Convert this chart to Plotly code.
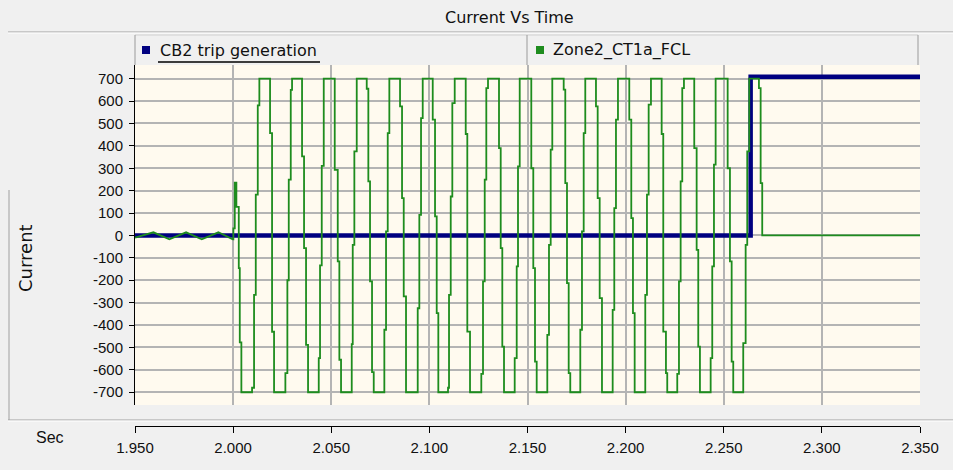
import plotly.graph_objects as go

# ---------------- data ----------------
# pre-fault (linear) samples of Zone2_CT1a_FCL
prefault_t = [1.950, 1.95937, 1.96752, 1.97603, 1.98403, 1.99249, 1.99982]
prefault_v = [-10, 14, -17, 14, -17, 14, -17]

# fault period: sample-and-hold samples of Zone2_CT1a_FCL (time s, current)
fault_t = [2.00013, 2.00084, 2.00166, 2.00288, 2.00339, 2.00420,
           2.00965, 2.01067, 2.01154, 2.01256, 2.01337,
           2.01882, 2.01984, 2.02086,
           2.02662, 2.02764, 2.02835, 2.02937, 2.03003,
           2.03512, 2.03614, 2.03716, 2.03818,
           2.04363, 2.04429, 2.04516, 2.04618,
           2.05178, 2.05331, 2.05413, 2.05499,
           2.06044, 2.06095, 2.06177, 2.06299,
           2.06808, 2.06890, 2.06976, 2.07078, 2.07165,
           2.07705, 2.07792, 2.07878, 2.07960,
           2.08505, 2.08607, 2.08693, 2.08810,
           2.09406, 2.09488, 2.09575, 2.09661,
           2.10171, 2.10288, 2.10374, 2.10456,
           2.10950, 2.11001, 2.11088, 2.11169, 2.11291,
           2.11852, 2.11933, 2.12071,
           2.12646, 2.12733, 2.12820, 2.12901, 2.12988,
           2.13548, 2.13635, 2.13716, 2.13803,
           2.14348, 2.14450, 2.14516, 2.14603,
           2.15193, 2.15295, 2.15382, 2.15469,
           2.16009, 2.16095, 2.16182, 2.16263,
           2.16844, 2.16925, 2.17012, 2.17099, 2.17180,
           2.17690, 2.17776, 2.17863, 2.17944,
           2.18489, 2.18576, 2.18678, 2.18795,
           2.19340, 2.19422, 2.19508, 2.19610,
           2.20186, 2.20288, 2.20374, 2.20461,
           2.21001, 2.21087, 2.21174, 2.21291,
           2.21836, 2.21918, 2.22055, 2.22121,
           2.22631, 2.22718, 2.22804, 2.22886, 2.22972,
           2.23497, 2.23619, 2.23701, 2.23787,
           2.24333, 2.24414, 2.24501, 2.24587,
           2.25199, 2.25316, 2.25403, 2.25484,
           2.25993, 2.26116, 2.26197, 2.26299,
           2.26793, 2.26880, 2.26961, 2.35000]
fault_v = [32, 236, 128, -146, -477, -700,
           -680, -265, 182, 581, 700,
           457, -430, -700,
           -615, -200, 249, 650, 700,
           353, -57, -489, -700,
           -548, -134, 311, 700,
           293, -116, -555, -700,
           -485, -42, 375, 700,
           655, 241, -205, -610, -700,
           -421, 18, 457, 700,
           576, 167, -272, -700,
           -325, 92, 524, 700,
           517, 85, -347, -700,
           -680, -265, 174, 591, 700,
           453, -429, -700,
           -618, -205, 249, 658, 700,
           390, -57, -496, -700,
           -548, -138, 308, 700,
           300, -146, -563, -700,
           -444, -42, 383, 700,
           651, 234, -213, -615, -700,
           -421, 18, 457, 700,
           576, 167, -280, -700,
           -332, 122, 517, 700,
           517, 77, -347, -700,
           -265, 182, 584, 700,
           453, -429, -615, -700,
           -618, -205, 241, 658, 700,
           390, -64, -496, -700,
           -548, -138, 316, 700,
           300, -116, -563, -700,
           -481, -42, 375, 700,
           658, 234, 0, 0]

# CB2 trip generation (step)
trip_t = [1.950, 2.26370, 2.350]
trip_v = [0, 708, 708]

x_ticks = [1.95, 2.00, 2.05, 2.10, 2.15, 2.20, 2.25, 2.30, 2.35]
x_tick_text = ["1.950", "2.000", "2.050", "2.100", "2.150", "2.200", "2.250", "2.300", "2.350"]
y_ticks = list(range(-700, 701, 100))
y_tick_text = [str(v) for v in y_ticks]  # plain hyphen minus, as in the reference

series_names = ["CB2 trip generation", "Zone2_CT1a_FCL"]
series_colors = ["#000080", "#1e8c1e"]

# ---------------- build green path (linear pre-fault + sample-and-hold) ----------------
gx = list(prefault_t)
gy = list(prefault_v)
prev = prefault_v[-1]
for t, v in zip(fault_t, fault_v):
    gx.extend([t, t])
    gy.extend([prev, v])
    prev = v

# ---------------- geometry helpers (layout only) ----------------
W, H = 953, 470
ML, MR, MT, MB = 135, 33, 65, 40
PW, PH = W - ML - MR, H - MT - MB
PLOT_BOTTOM = 405


def px(xp):
    return (xp - ML) / PW


def py(yp):
    return (H - MB - yp) / PH


TICK_FONT = "Liberation Sans, Arial, sans-serif"
TEXT_FONT = "DejaVu Sans, Liberation Sans, sans-serif"

fig = go.Figure()
fig.add_trace(go.Scatter(x=trip_t, y=trip_v, mode="lines", line_shape="hv",
                         name=series_names[0],
                         line=dict(color=series_colors[0], width=4.5)))
fig.add_trace(go.Scatter(x=gx, y=gy, mode="lines", name=series_names[1],
                         line=dict(color=series_colors[1], width=1.8)))
# carrier for the separate bottom time axis (no visible marks)
fig.add_trace(go.Scatter(x=[x_ticks[0], x_ticks[-1]], y=[None, None], xaxis="x2",
                         mode="lines", showlegend=False, hoverinfo="skip"))

grid = "#b4b4b4"
fig.update_layout(
    width=W, height=H,
    margin=dict(l=ML, r=MR, t=MT, b=MB),
    paper_bgcolor="#f0f0f0",
    plot_bgcolor="#fffaef",
    showlegend=False,
    font=dict(family=TICK_FONT, size=15, color="#111111"),
    xaxis=dict(range=[1.95, 2.35], tickvals=x_ticks, showticklabels=False,
               ticks="", showgrid=True, gridcolor=grid, gridwidth=1.5,
               zeroline=False, showline=False),
    xaxis2=dict(range=[1.95, 2.35], overlaying="x", anchor="free",
                position=py(426), side="bottom", tickvals=x_ticks,
                ticktext=x_tick_text, ticks="outside", ticklen=6,
                ticklabelstandoff=2,
                tickcolor="#000000", showline=True, linecolor="#000000",
                linewidth=1, showgrid=False, zeroline=False,
                tickfont=dict(size=15, color="#111111")),
    yaxis=dict(range=[-757, 761], domain=[py(PLOT_BOTTOM), 1], tickvals=y_ticks,
               ticktext=y_tick_text,
               ticks="outside", ticklen=5, tickcolor="#000000",
               ticklabelstandoff=3,
               showline=True, linecolor="#000000", linewidth=1,
               showgrid=True, gridcolor=grid, gridwidth=1.5, zeroline=False,
               tickfont=dict(size=15, color="#111111")),
)

shapes = []
# separators
for yy, col in [(32, "#a0a0a0"), (33, "#ffffff"), (420, "#a0a0a0"), (421, "#ffffff")]:
    shapes.append(dict(type="line", xref="paper", yref="paper", x0=px(8), x1=px(953),
                       y0=py(yy), y1=py(yy), line=dict(color=col, width=1)))
# left frame line
shapes.append(dict(type="line", xref="paper", yref="paper", x0=px(9), x1=px(9),
                   y0=py(190), y1=py(420), line=dict(color="#a0a0a0", width=1)))
# legend cells
shapes.append(dict(type="line", xref="paper", yref="paper", x0=px(135), x1=px(918),
                   y0=py(35), y1=py(35), line=dict(color="#d0d0d0", width=1)))
for xx in [135, 527, 918]:
    shapes.append(dict(type="line", xref="paper", yref="paper", x0=px(xx), x1=px(xx),
                       y0=py(35), y1=py(65), line=dict(color="#9a9a9a", width=1)))
# legend squares
for x0, col in [(142, series_colors[0]), (536, series_colors[1])]:
    shapes.append(dict(type="rect", xref="paper", yref="paper", x0=px(x0), x1=px(x0 + 8),
                       y0=py(54), y1=py(46), fillcolor=col, line=dict(width=0)))
# underline of selected legend entry
shapes.append(dict(type="line", xref="paper", yref="paper", x0=px(158), x1=px(320),
                   y0=py(62), y1=py(62), line=dict(color="#000000", width=1.5)))

annotations = [
    dict(text="Current Vs Time", x=px(509), y=py(18), xref="paper", yref="paper",
         showarrow=False, xanchor="center", yanchor="middle",
         font=dict(family=TEXT_FONT, size=16)),
    dict(text=series_names[0], x=px(158), y=py(50), xref="paper", yref="paper",
         showarrow=False, xanchor="left", yanchor="middle",
         font=dict(family=TEXT_FONT, size=16)),
    dict(text=series_names[1], x=px(551), y=py(50), xref="paper", yref="paper",
         showarrow=False, xanchor="left", yanchor="middle",
         font=dict(family=TEXT_FONT, size=16)),
    dict(text="Current", x=px(25), y=py(258), xref="paper", yref="paper",
         showarrow=False, textangle=-90, xanchor="center", yanchor="middle",
         font=dict(family=TEXT_FONT, size=18)),
    dict(text="Sec", x=px(50), y=py(437), xref="paper", yref="paper",
         showarrow=False, xanchor="center", yanchor="middle",
         font=dict(family=TICK_FONT, size=16)),
]

fig.update_layout(shapes=shapes, annotations=annotations)
fig.write_html("out.html")
